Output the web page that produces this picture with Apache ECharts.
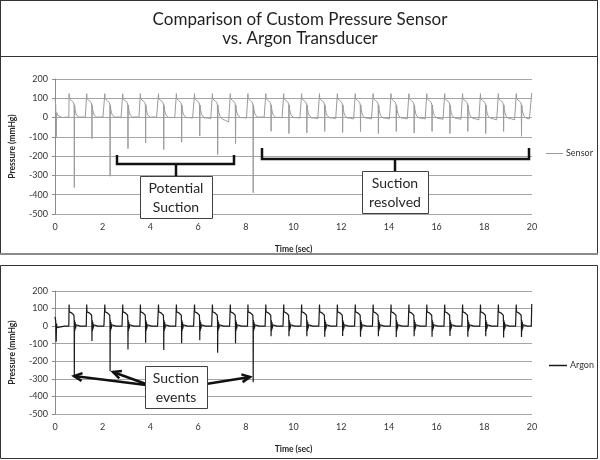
<!DOCTYPE html>
<html>
<head>
<meta charset="utf-8">
<script src="https://cdn.jsdelivr.net/npm/echarts@6/dist/echarts.min.js"></script>
<style>
  html, body { margin: 0; padding: 0; background: #ffffff; }
  #chart { width: 600px; height: 460px; }
</style>
</head>
<body>
<div id="chart"></div>
<script>
// ---- Data ----
const xTicks = [0, 2, 4, 6, 8, 10, 12, 14, 16, 18, 20];
const yTicks = [-500, -400, -300, -200, -100, 0, 100, 200];

// time (sec) of each beat's sharp pressure drop
const beatDrop = [0.81, 1.55, 2.31, 3.06, 3.80, 4.56, 5.31, 6.07, 6.82, 7.57, 8.31, 9.06, 9.81,
                  10.56, 11.31, 12.06, 12.81, 13.56, 14.31, 15.06, 15.81, 16.56, 17.31, 18.06, 18.81, 19.56];

// lowest value (mmHg) of the negative spike at each drop
const sensorDip = [-363, -109, -304, -161, -131, -166, -128, -95, -192, -135, -390, -71, -83,
                   -80, -72, -78, -72, -83, -72, -80, -72, -83, -72, -83, -72, -97];
const argonDip  = [-291, -85, -256, -133, -95, -136, -98, -80, -152, -98, -320, -57, -57,
                   -58, -60, -56, -60, -58, -62, -58, -60, -56, -60, -58, -64, -62];

// resting level (mmHg) the sensor trace drifts to after each beat
const sensorBase = [0, 0, 0, 0, 0, -3, -5, -8, -27, -5, 0, -3, -5,
                    -8, -8, -10, -10, -10, -10, -10, -12, -12, -15, -15, -15, -15];

// shape of one beat: [seconds relative to the drop, mmHg]; the dip goes at 0
const sensorBeatPre  = [[-0.23, 2], [-0.22, 124], [-0.21, 98], [-0.195, 108], [-0.18, 92], [-0.16, 96],
                        [-0.12, 88], [-0.07, 85], [-0.03, 78], [-0.01, 62]];
const sensorBeatPost = [[0.012, 66], [0.03, 42], [0.06, 24], [0.1, 12], [0.15, 6], [0.2, 2],
                        [0.27, -3], [0.33, 3], [0.4, -2], [0.46, 2], [0.5, 0]];
const argonBeatPre   = [[-0.23, 0], [-0.22, 123], [-0.21, 82], [-0.2, 92], [-0.19, 80], [-0.15, 78],
                        [-0.1, 74], [-0.04, 70], [-0.015, 62], [-0.005, 20]];
const argonBeatPost  = [[0.008, 35], [0.02, -28], [0.035, 24], [0.05, -14], [0.07, 8], [0.1, -3],
                        [0.15, 2], [0.25, 0], [0.5, 0]];

const sensorStart = [[0, 92], [0.03, 70], [0.05, -100], [0.07, 26], [0.12, 12], [0.2, 4], [0.3, 0], [0.45, 2]];
const argonStart  = [[0, 53], [0.03, 30], [0.05, -89], [0.065, 15], [0.08, -8], [0.12, 0], [0.4, 0]];
const sensorEnd   = [[19.97, -15], [19.99, 128]];
const argonEnd    = [[19.97, 0], [19.99, 126]];

function buildTrace(start, pre, post, dips, bases, end) {
  const pts = start.slice();
  let prevBase = 0;
  for (let i = 0; i < beatDrop.length; i++) {
    const td = beatDrop[i];
    const base = bases ? bases[i] : 0;
    pre.forEach(function (p, k) {
      pts.push([+(td + p[0]).toFixed(3), k === 0 ? p[1] + prevBase : p[1]]);
    });
    pts.push([td, dips[i]]);
    post.forEach(function (p) {
      const t = +(td + p[0]).toFixed(3);
      const w = Math.min(1, p[0] / 0.5);
      if (t < end[0][0]) pts.push([t, p[1] + base * w]);
    });
    prevBase = base;
  }
  return pts.concat(end);
}

const sensorData = buildTrace(sensorStart, sensorBeatPre, sensorBeatPost, sensorDip, sensorBase, sensorEnd);
const argonData  = buildTrace(argonStart, argonBeatPre, argonBeatPost, argonDip, null, argonEnd);

// ---- Chart ----
const chart = echarts.init(document.getElementById('chart'), null, { renderer: 'canvas' });
const FONT = 'Lato, "Liberation Sans", sans-serif';

function xAxisCfg(gi) {
  return {
    type: 'value', gridIndex: gi, min: xTicks[0], max: xTicks[xTicks.length - 1], interval: 2,
    name: 'Time (sec)', nameLocation: 'middle', nameGap: 31,
    nameTextStyle: { fontFamily: FONT, fontSize: 8.5, fontWeight: 'bold', color: '#262626' },
    axisLine: { show: false }, axisTick: { show: false }, splitLine: { show: false },
    axisLabel: { fontFamily: FONT, fontSize: 9, color: '#333', margin: 9 }
  };
}
function yAxisCfg(gi) {
  return {
    type: 'value', gridIndex: gi, min: yTicks[0], max: yTicks[yTicks.length - 1], interval: 100,
    name: 'Pressure (mmHg)', nameLocation: 'middle', nameGap: 38, nameRotate: 90,
    nameTextStyle: { fontFamily: FONT, fontSize: 8.5, fontWeight: 'bold', color: '#262626' },
    axisLine: { show: true, lineStyle: { color: '#8c8c8c', width: 1 } },
    axisTick: { show: true, length: 3, lineStyle: { color: '#8c8c8c' } },
    splitLine: { show: true, lineStyle: { color: '#a6a6a6', width: 1 } },
    axisLabel: { fontFamily: FONT, fontSize: 9, color: '#333', margin: 7 }
  };
}

const option = {
  backgroundColor: '#ffffff',
  animation: false,
  title: {
    text: 'Comparison of Custom Pressure Sensor\nvs. Argon Transducer',
    left: 'center', top: 5,
    textStyle: { fontFamily: FONT, fontSize: 17, fontWeight: 'normal', color: '#1f1f1f', lineHeight: 19 }
  },
  legend: [
    { data: ['Sensor'], left: 541, top: 144, icon: 'rect', itemWidth: 17, itemHeight: 1, itemGap: 3,
      textStyle: { fontFamily: FONT, fontSize: 9, color: '#333', padding: [0, 0, 0, -2] } },
    { data: ['Argon'], left: 544, top: 356, icon: 'rect', itemWidth: 18, itemHeight: 1.5, itemGap: 3,
      textStyle: { fontFamily: FONT, fontSize: 9, color: '#333', padding: [0, 0, 0, -2] } }
  ],
  grid: [
    { left: 54, top: 79, width: 478, height: 135 },
    { left: 54, top: 291, width: 478, height: 123 }
  ],
  xAxis: [xAxisCfg(0), xAxisCfg(1)],
  yAxis: [yAxisCfg(0), yAxisCfg(1)],
  series: [
    { name: 'Sensor', type: 'line', xAxisIndex: 0, yAxisIndex: 0, data: sensorData,
      showSymbol: false, symbol: 'none', lineStyle: { color: '#9b9b9b', width: 1 }, itemStyle: { color: '#9b9b9b' } },
    { name: 'Argon', type: 'line', xAxisIndex: 1, yAxisIndex: 1, data: argonData,
      showSymbol: false, symbol: 'none', lineStyle: { color: '#1a1a1a', width: 1.2 }, itemStyle: { color: '#1a1a1a' } }
  ]
};
chart.setOption(option);

// ---- Frames and annotations (decorations, not data) ----
const K = '#111';
function box(x, y, w, h) {
  return { type: 'rect', shape: { x: x, y: y, width: w, height: h }, z: 100,
           style: { fill: '#fff', stroke: '#404040', lineWidth: 1 } };
}
function label(cx, cy, txt) {
  return { type: 'text', x: cx, y: cy, z: 101,
           style: { text: txt, fontFamily: FONT, fontSize: 14, fill: '#262626', align: 'center', verticalAlign: 'middle', lineHeight: 19 } };
}
function poly(pts, w) {
  return { type: 'polyline', shape: { points: pts }, z: 100, style: { stroke: K, lineWidth: w || 2.5, fill: null, lineJoin: 'miter' } };
}
function arrow(x1, y1, x2, y2) {
  const a = Math.atan2(y2 - y1, x2 - x1), L = 9, s = 0.45;
  return [
    { type: 'line', shape: { x1: x1, y1: y1, x2: x2, y2: y2 }, z: 100, style: { stroke: K, lineWidth: 2.5 } },
    poly([[x2 - L * Math.cos(a - s), y2 - L * Math.sin(a - s)], [x2, y2], [x2 - L * Math.cos(a + s), y2 - L * Math.sin(a + s)]], 2.5)
  ];
}

const graphics = [
  // frames
  { type: 'line', shape: { x1: 0, y1: 0.5, x2: 598, y2: 0.5 }, style: { stroke: '#333', lineWidth: 1 } },
  { type: 'line', shape: { x1: 0.5, y1: 0, x2: 0.5, y2: 254 }, style: { stroke: '#333', lineWidth: 1 } },
  { type: 'line', shape: { x1: 597.5, y1: 0, x2: 597.5, y2: 254 }, style: { stroke: '#333', lineWidth: 1 } },
  { type: 'line', shape: { x1: 0, y1: 56.5, x2: 598, y2: 56.5 }, style: { stroke: '#333', lineWidth: 1 } },
  { type: 'line', shape: { x1: 0, y1: 254, x2: 598, y2: 254 }, style: { stroke: '#8a8a8a', lineWidth: 2 } },
  { type: 'rect', shape: { x: 0.5, y: 265.5, width: 597, height: 193 }, style: { fill: null, stroke: '#333', lineWidth: 1 } },

  // "Potential Suction" brace
  poly([[117, 155], [117, 164], [234, 164], [234, 155]]),
  poly([[176, 164], [176, 176]]),
  box(140.5, 176.5, 72, 42),
  label(176, 197.5, 'Potential\nSuction'),

  // "Suction resolved" brace
  poly([[262, 148], [262, 159], [529, 159], [529, 148]]),
  poly([[395, 159], [395, 171]]),
  box(362.5, 171.5, 66, 42),
  label(395, 192.5, 'Suction\nresolved'),

  // "Suction events" arrows
  ...arrow(146, 385, 74, 376),
  ...arrow(146, 384, 113, 372),
  ...arrow(206, 384, 250, 377),
  box(145.5, 366.5, 62, 42),
  label(176, 387.5, 'Suction\nevents')
];
chart.setOption({ graphic: graphics });
</script>
</body>
</html>
